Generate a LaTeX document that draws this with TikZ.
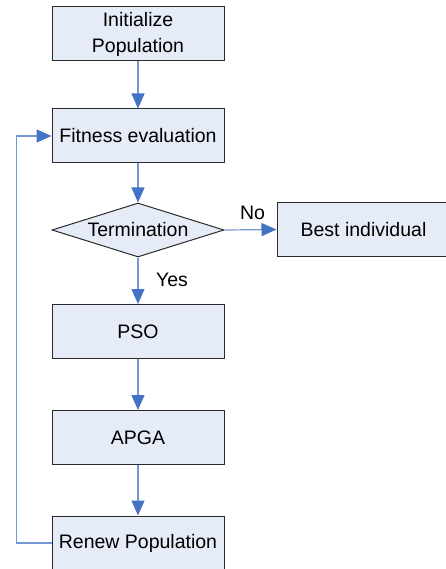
\documentclass[tikz,border=0pt]{standalone}
\usepackage{fontspec}
\setmainfont{Liberation Sans}
\usetikzlibrary{shapes.geometric,arrows.meta}
\definecolor{boxfill}{HTML}{E6ECF7}
\definecolor{boxline}{HTML}{2B2B2B}
\definecolor{linkblue}{HTML}{7397D3}
\definecolor{headblue}{HTML}{4472C4}
\tikzset{
  stepbox/.style={draw=boxline, fill=boxfill, line width=1pt, rectangle,
    minimum width=172pt, minimum height=54pt, inner sep=0pt, align=center,
    font=\fontsize{19.5}{26}\selectfont},
  decision/.style={draw=boxline, fill=boxfill, line width=1pt, diamond,
    aspect=3.185, minimum width=172pt, minimum height=54pt, inner sep=0pt,
    font=\fontsize{19.5}{26}\selectfont},
  conn/.style={draw=linkblue, line width=1.2pt,
    -{Triangle[length=15pt,width=13pt,color=headblue]}},
  lbl/.style={font=\fontsize{19.5}{26}\selectfont, inner sep=0pt}
}
\begin{document}
\begin{tikzpicture}[x=1pt,y=-1pt]
\useasboundingbox (0,0) rectangle (446,569);
\clip (0,0) rectangle (446,569);
\node[stepbox] (init) at (138,34) {Initialize\\Population};
\node[stepbox] (fit) at (138,136) {Fitness evaluation};
\node[decision] (term) at (138,230) {Termination};
\node[stepbox, minimum width=173pt] (best) at (363.5,229.5) {Best individual};
\node[stepbox] (pso) at (138,331.5) {PSO};
\node[stepbox] (apga) at (138,437.5) {APGA};
\node[stepbox] (renew) at (138,543) {Renew Population};
\draw[conn] (init) -- (fit);
\draw[conn] (fit) -- (term);
\draw[conn] (term.east) -- (best.west);
\draw[conn] (term.south) -- (pso.north);
\draw[conn] (pso) -- (apga);
\draw[conn] (apga) -- (renew);
\draw[conn] (renew.west) -- ++(-35,0) |- (fit.west);
\node[lbl] (no) at (252.5,213) {No};
\node[lbl] (yes) at (172,280) {Yes};
\end{tikzpicture}
\end{document}
